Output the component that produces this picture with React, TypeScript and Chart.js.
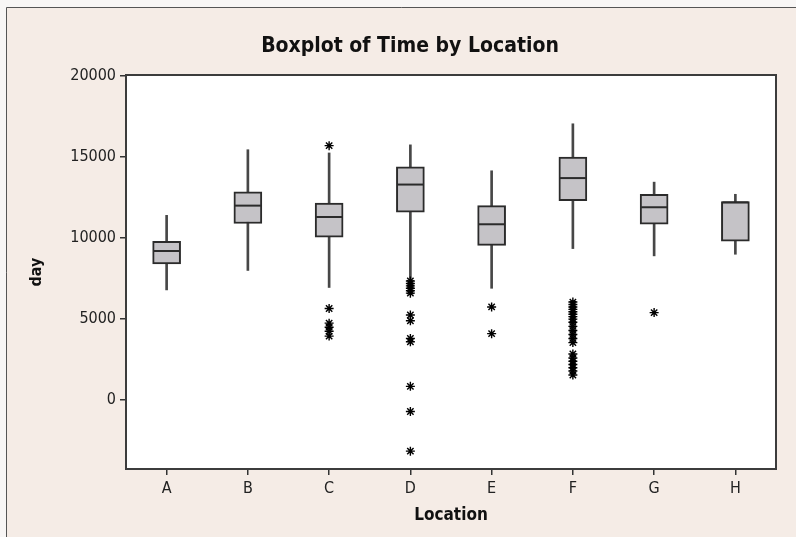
import React, { useEffect, useRef } from 'react';
import { Chart, registerables } from 'chart.js';

Chart.register(...registerables);

// ---- data ----
const categories = ['A', 'B', 'C', 'D', 'E', 'F', 'G', 'H'];
const whiskerLow = [6800, 8000, 6950, 7500, 6900, 9350, 8900, 9000];
const q1 = [8400, 10900, 10050, 11600, 9550, 12300, 10850, 9800];
const medians = [9200, 12000, 11300, 13300, 10850, 13700, 11900, 12200];
const q3 = [9800, 12850, 12150, 14400, 12000, 15000, 12700, 12250];
const whiskerHigh = [11400, 15450, 15250, 15750, 14150, 17050, 13450, 12700];
const outliersA: number[] = [];
const outliersB: number[] = [];
const outliersC = [15700, 5650, 4750, 4500, 4250, 3950];
const outliersD = [7350, 7200, 7050, 6900, 6750, 6600, 5250, 4900, 3800, 3600, 850, -700, -3150];
const outliersE = [5750, 4100];
const outliersF = [6050, 5900, 5750, 5600, 5450, 5300, 5150, 5000, 4800, 4550, 4300, 4050, 3800, 3550, 2850, 2600, 2400, 2200, 2000, 1800, 1550];
const outliersG = [5400];
const outliersH: number[] = [];
const outliers = [outliersA, outliersB, outliersC, outliersD, outliersE, outliersF, outliersG, outliersH];
const yTicks = [0, 5000, 10000, 15000, 20000];
const titleText = 'Boxplot of Time by Location';
const xTitle = 'Location';
const yTitle = 'day';

const FONT = "'DejaVu Sans Condensed', 'DejaVu Sans', sans-serif";

const framePlugin = {
  id: 'frame',
  beforeDraw(chart: any) {
    const { ctx, width, height, chartArea: a } = chart;
    ctx.save();
    ctx.fillStyle = '#f8f6f5';
    ctx.fillRect(0, 0, width, height);
    ctx.fillStyle = '#f5ece6';
    ctx.fillRect(7, 8, width - 7, height - 8);
    ctx.fillStyle = '#ffffff';
    ctx.fillRect(a.left, a.top, a.right - a.left, a.bottom - a.top);
    ctx.strokeStyle = '#555555';
    ctx.lineWidth = 1;
    ctx.beginPath();
    ctx.moveTo(6.5, height);
    ctx.lineTo(6.5, 7.5);
    ctx.lineTo(width, 7.5);
    ctx.stroke();
    ctx.fillStyle = '#111111';
    ctx.font = `bold 21px ${FONT}`;
    ctx.textAlign = 'center';
    ctx.textBaseline = 'middle';
    ctx.fillText(titleText, 410, 47);
    ctx.restore();
  },
  afterDraw(chart: any) {
    const { ctx, chartArea: a } = chart;
    ctx.save();
    ctx.strokeStyle = '#3c3c3c';
    ctx.lineWidth = 2;
    ctx.strokeRect(a.left, a.top, a.right - a.left, a.bottom - a.top);
    ctx.restore();
  },
};

export default function App() {
  const ref = useRef<HTMLCanvasElement | null>(null);
  useEffect(() => {
    if (!ref.current) return;
    const outlierPoints: { x: string; y: number }[] = [];
    outliers.forEach((arr, i) => arr.forEach((v) => outlierPoints.push({ x: categories[i], y: v })));
    const chart = new Chart(ref.current, {
      type: 'bar',
      data: {
        labels: categories,
        datasets: [
          {
            type: 'line',
            label: 'outliers',
            data: outlierPoints as any,
            showLine: false,
            pointStyle: 'star',
            pointRadius: 4.5,
            borderColor: '#000000',
            borderWidth: 1.4,
            backgroundColor: 'transparent',
            order: 0,
          } as any,
          {
            type: 'line',
            label: 'median',
            data: medians,
            showLine: false,
            pointStyle: 'line',
            pointRadius: 13,
            borderColor: '#2b2b2b',
            borderWidth: 2,
            order: 1,
          } as any,
          {
            type: 'bar',
            label: 'box',
            data: categories.map((_, i) => [q1[i], q3[i]]),
            backgroundColor: '#c5c3c7',
            borderColor: '#2b2b2b',
            borderWidth: 2,
            borderSkipped: false,
            barThickness: 28,
            grouped: false,
            order: 2,
          } as any,
          {
            type: 'bar',
            label: 'whisker',
            data: categories.map((_, i) => [whiskerLow[i], whiskerHigh[i]]),
            backgroundColor: '#474747',
            borderWidth: 0,
            barThickness: 2,
            grouped: false,
            order: 3,
          } as any,
        ],
      },
      options: {
        responsive: false,
        animation: false,
        layout: { padding: { top: 75, right: 20, bottom: 0, left: 0 } },
        plugins: {
          legend: { display: false },
          tooltip: { enabled: false },
          title: { display: false },
        },
        scales: {
          x: {
            type: 'category',
            offset: true,
            border: { display: false },
            grid: { offset: false, drawOnChartArea: false, drawTicks: true, tickLength: 6, color: '#333333', lineWidth: 1.5 },
            ticks: { color: '#222222', font: { family: FONT, size: 16 }, padding: 4 },
            title: {
              display: true,
              text: xTitle,
              color: '#111111',
              font: { family: FONT, size: 17, weight: 'bold' },
              padding: { top: 0, bottom: 11 },
            },
            afterFit(scale: any) {
              scale.height = 68;
            },
          },
          y: {
            type: 'linear',
            min: -4250,
            max: 20060,
            border: { display: false },
            grid: { drawOnChartArea: false, drawTicks: true, tickLength: 6, color: '#333333', lineWidth: 1.5 },
            ticks: {
              color: '#222222',
              font: { family: FONT, size: 16 },
              padding: 4,
              callback: (v: any) => String(v),
            },
            afterBuildTicks(scale: any) {
              scale.ticks = yTicks.map((v) => ({ value: v }));
            },
            title: {
              display: true,
              text: yTitle,
              color: '#111111',
              font: { family: FONT, size: 16, weight: 'bold' },
              padding: { top: 27, bottom: 0 },
            },
            afterFit(scale: any) {
              scale.width = 126;
            },
          },
        },
      } as any,
      plugins: [framePlugin],
    });
    return () => chart.destroy();
  }, []);
  return (
    <div style={{ position: 'fixed', left: 0, top: 0, width: 796, height: 537 }}>
      <canvas ref={ref} width={796} height={537} />
    </div>
  );
}
